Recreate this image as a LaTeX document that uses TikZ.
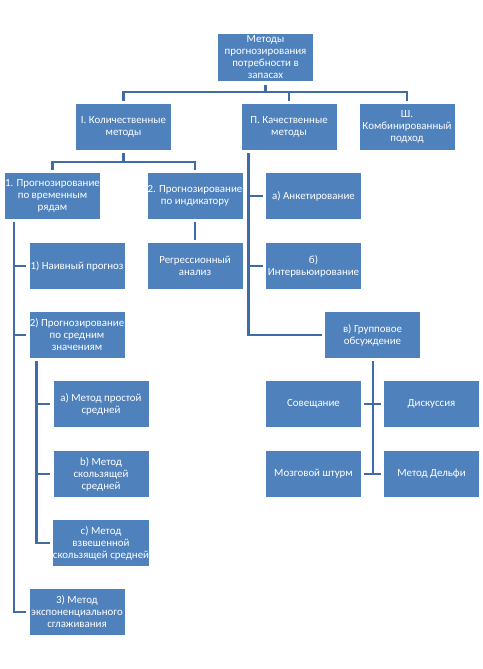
\documentclass[tikz,border=0pt]{standalone}
\usepackage{fontspec}
\setmainfont{Carlito}
\usetikzlibrary{calc}
\definecolor{boxblue}{RGB}{79,129,189}
\definecolor{linkblue}{RGB}{64,108,165}
\tikzset{
  box/.style={fill=boxblue, draw=none, minimum width=95pt, minimum height=46pt, inner sep=0pt,
    text=white, align=center, font=\fontsize{10.9}{12}\selectfont},
  conn/.style={draw=linkblue, line width=2.6pt}
}
\begin{document}
\begin{tikzpicture}[x=1pt,y=-1pt]
\useasboundingbox (0,0) rectangle (482,669);
% nodes
\node[box] (root) at (265.5,57.5) {Методы\\прогнозирования\\потребности в\\запасах};
\node[box] (I) at (123.5,127) {I. Количественные\\методы};
\node[box] (II) at (289,127) {П. Качественные\\методы};
\node[box] (III) at (407,127) {Ш.\\Комбинированный\\подход};
\node[box] (t1) at (52.5,196) {1. Прогнозирование\\по временным\\рядам};
\node[box] (t2) at (195,196) {2. Прогнозирование\\по индикатору};
\node[box] (reg) at (195,266) {Регрессионный\\анализ};
\node[box] (naive) at (77,266) {1) Наивный прогноз};
\node[box] (avg) at (77,335) {2) Прогнозирование\\по средним\\значениям};
\node[box] (sa) at (101,404) {a) Метод простой\\средней};
\node[box] (sb) at (101,474) {b) Метод\\скользящей\\средней};
\node[box] (sc) at (101,543) {c) Метод\\взвешенной\\скользящей средней};
\node[box] (exp) at (77,612) {3) Метод\\экспоненциального\\сглаживания};
\node[box] (ank) at (313.5,196) {а) Анкетирование};
\node[box] (int) at (313.5,266) {б)\\Интервьюирование};
\node[box] (grp) at (372.5,335) {в) Групповое\\обсуждение};
\node[box] (sov) at (313.5,404) {Совещание};
\node[box] (dis) at (431.5,404) {Дискуссия};
\node[box] (moz) at (313.5,474) {Мозговой штурм};
\node[box] (del) at (431.5,474) {Метод Дельфи};
% level 1
\coordinate (b1) at (265.5,92);
\draw[conn] ($(root.south)+(0,4)$) -- (b1);
\draw[conn] ($(I.north)+(0,-3)$) |- (b1) -| ($(III.north)+(0,-3)$);
\draw[conn] ($(II.north)+(0,-3)$) -- (II.north |- b1);
% quantitative
\coordinate (b2) at (123.5,162);
\draw[conn] ($(I.south)+(0,3)$) -- (b2);
\draw[conn] ($(t1.north)+(0,-3)$) |- (b2) -| ($(t2.north)+(0,-3)$);
\draw[conn] ($(t2.south)+(0,3)$) -- ($(reg.north)+(0,-3)$);
% time series spine
\coordinate (s1) at ($(t1.south west)+(9,3)$);
\draw[conn] (s1) |- ($(naive.west)+(-3,0)$);
\draw[conn] (s1) |- ($(avg.west)+(-3,0)$);
\draw[conn] (s1) |- ($(exp.west)+(-3,0)$);
% averages spine
\coordinate (s2) at ($(avg.south west)+(7,3)$);
\draw[conn] (s2) |- ($(sa.west)+(-3,0)$);
\draw[conn] (s2) |- ($(sb.west)+(-3,0)$);
\draw[conn] (s2) |- ($(sc.west)+(-3,0)$);
% qualitative spine
\coordinate (s3) at ($(II.south west)+(7,3)$);
\draw[conn] (s3) |- ($(ank.west)+(-3,0)$);
\draw[conn] (s3) |- ($(int.west)+(-3,0)$);
\draw[conn] (s3) |- ($(grp.west)+(-3,0)$);
% group discussion
\coordinate (s4) at ($(grp.south)+(0.5,3)$);
\coordinate (s5) at (s4 |- moz.east);
\draw[conn] (s4) -- (s5);
\draw[conn] ($(sov.east)+(3,0)$) -- ($(dis.west)+(-3,0)$);
\draw[conn] ($(moz.east)+(3,0)$) -- ($(del.west)+(-3,0)$);
\end{tikzpicture}
\end{document}
